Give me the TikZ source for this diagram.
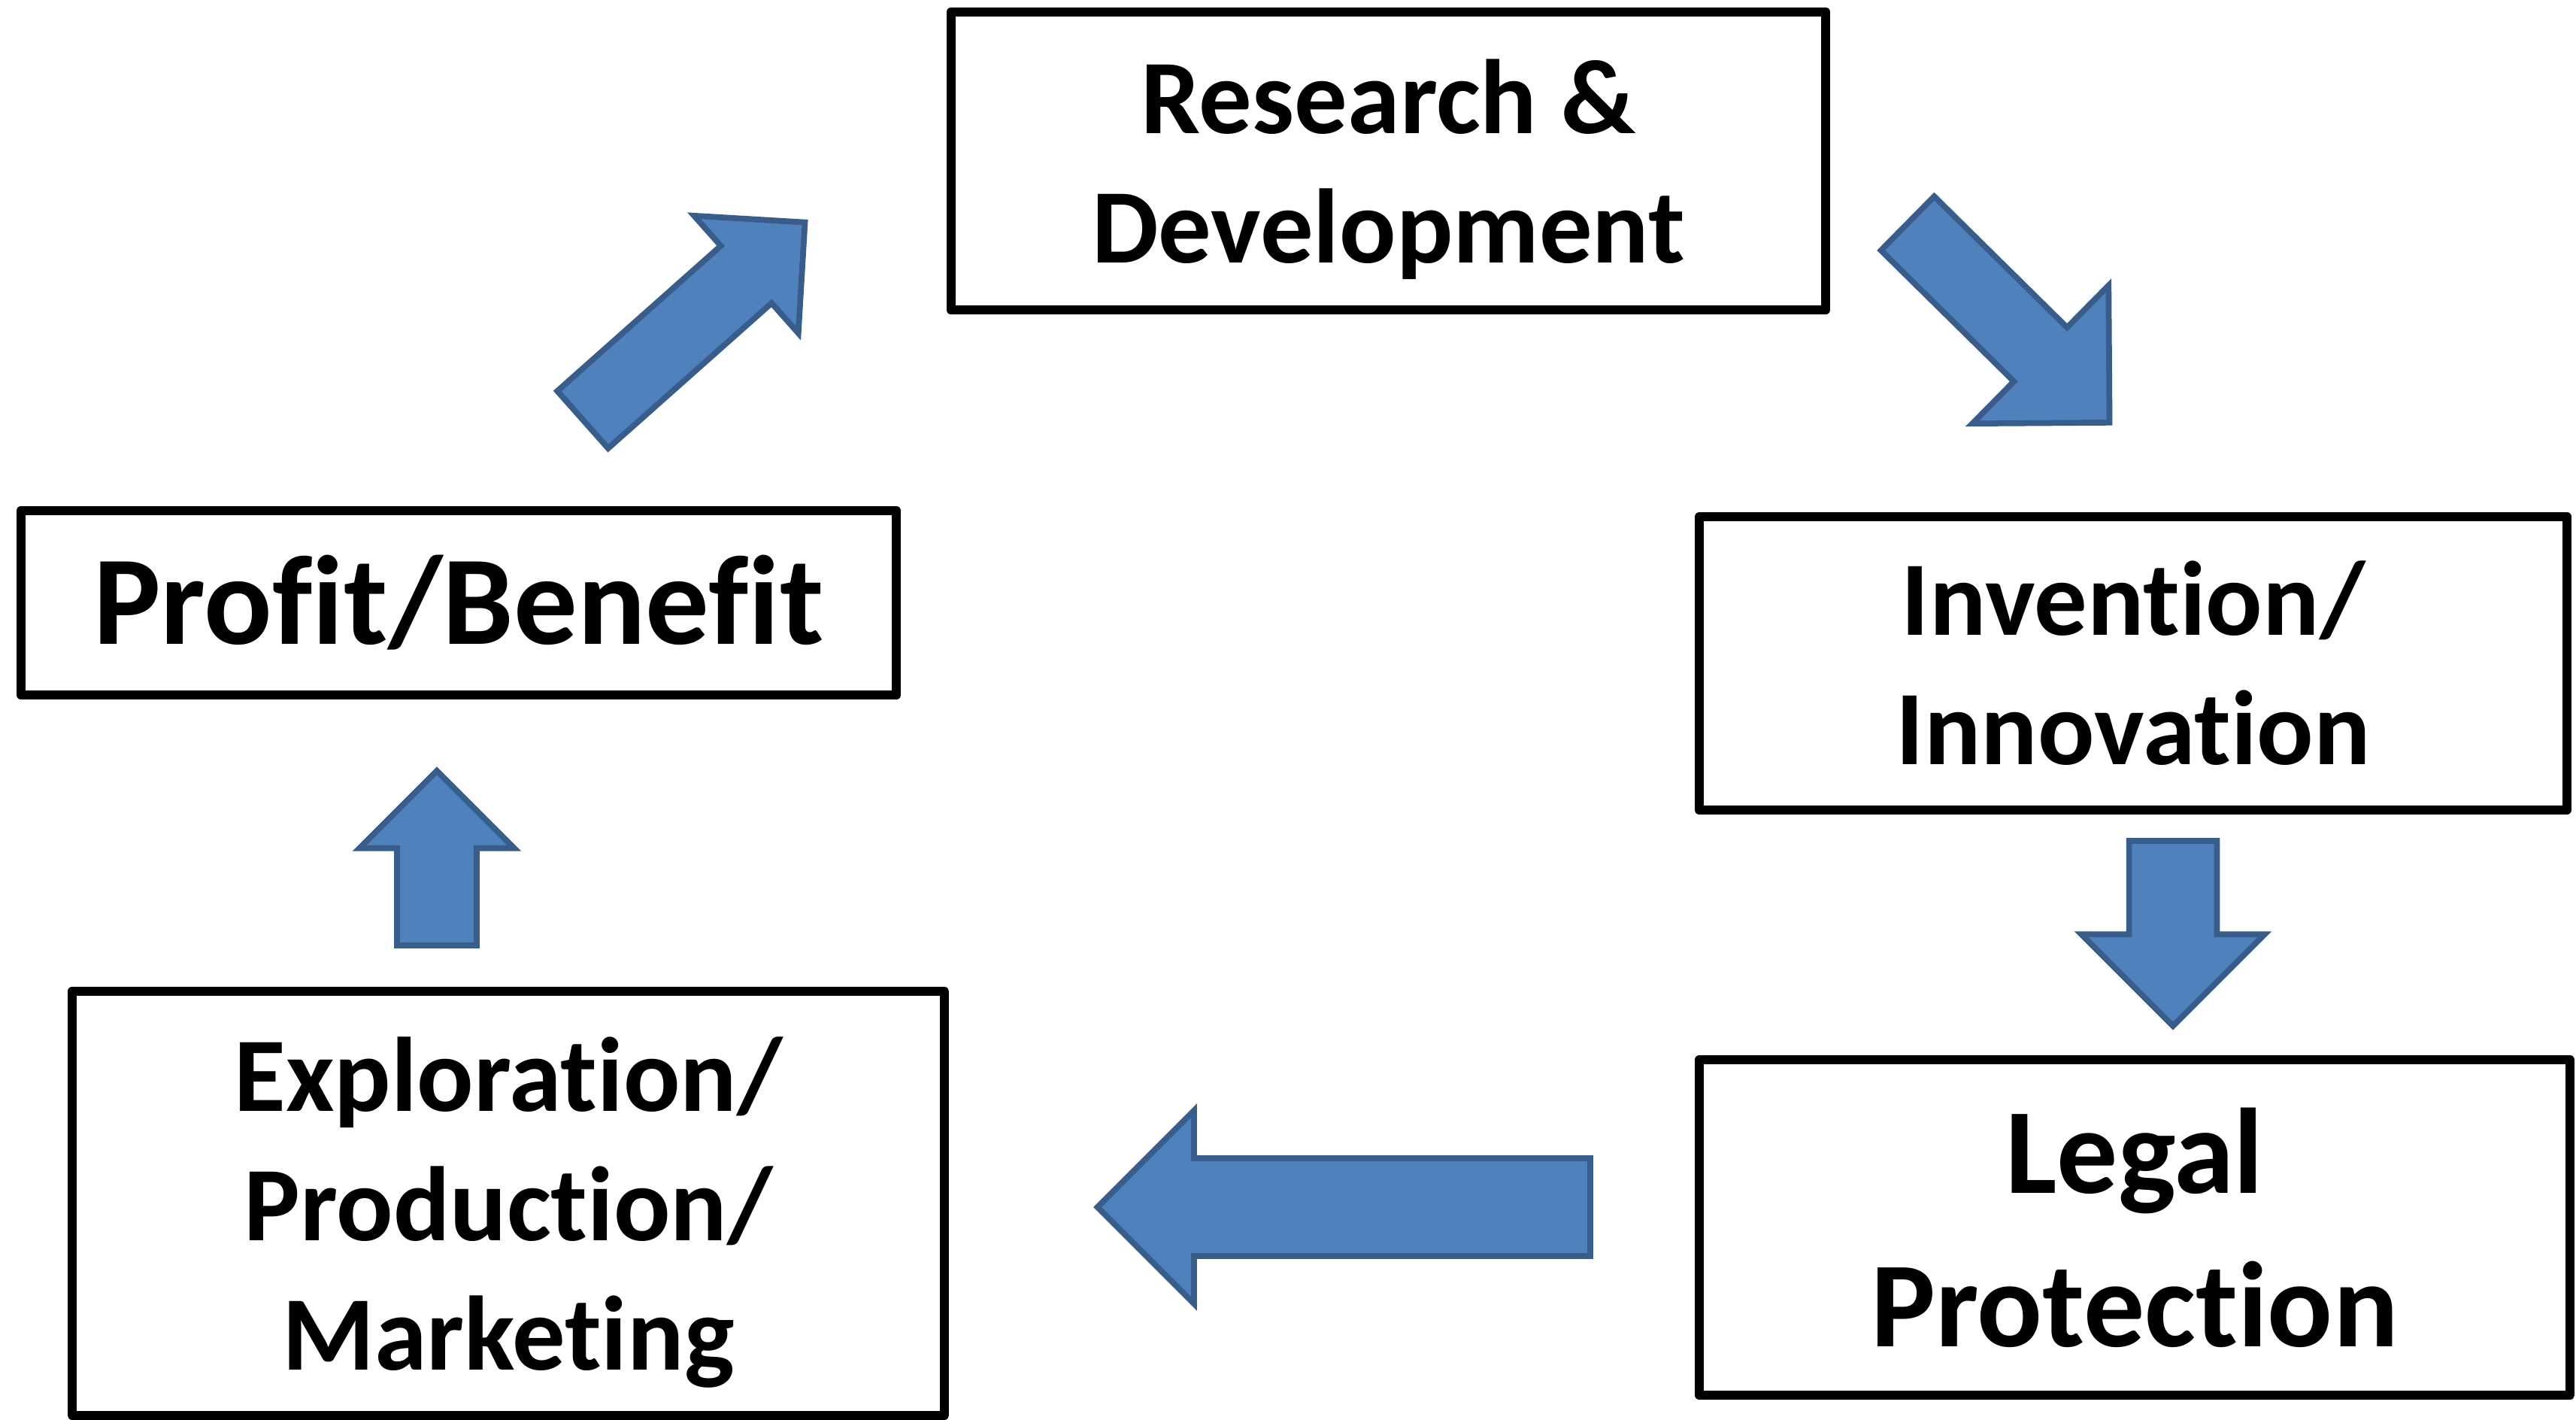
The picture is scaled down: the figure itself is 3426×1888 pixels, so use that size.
\documentclass[tikz,border=0pt]{standalone}
\usepackage{fontspec}
\setmainfont[Ligatures={NoCommon}]{Carlito}
\usetikzlibrary{shapes.arrows}

\definecolor{flowfill}{HTML}{4F81BD}
\definecolor{flowline}{HTML}{385D8A}

\tikzset{
  stage/.style={draw=black, fill=white, line width=3.4pt, line join=round,
    align=center, inner sep=0pt, font=\bfseries\fontsize{40}{49}\selectfont},
  flow/.style n args={4}{single arrow, draw=flowline, fill=flowfill,
    line width=2.2pt, single arrow tip angle=90, inner sep=0pt, outer sep=0pt,
    anchor=tail, minimum height=#1, inner ysep=#2/2, minimum width=#3,
    single arrow head extend=#4}
}

\begin{document}
\begin{tikzpicture}[x=0.01cm, y=-0.01cm]
\useasboundingbox (0,0) rectangle (3426,1888);

\node[stage, minimum width=11.63cm, minimum height=3.96cm, text depth=0pt] (rd)
  at (1846.5,214) {Research \&\\Development};
\node[stage, minimum width=11.53cm, minimum height=3.90cm] (inv) at (2837,882)
  {Invention/\\Innovation};
\node[stage, minimum width=11.58cm, minimum height=4.45cm,
  font=\bfseries\fontsize{46}{58}\selectfont] (lp) at (2839,1632)
  {Legal\\Protection};
\node[stage, minimum width=11.60cm, minimum height=5.63cm, text depth=0pt] (epm)
  at (676,1600) {Exploration/\\Production/\\Marketing};
\node[stage, minimum width=11.64cm, minimum height=2.45cm,
  font=\bfseries\fontsize{48}{58}\selectfont] (pb) at (610,801.5)
  {Profit/Benefit};

\node[flow={3.95cm}{0.94cm}{2.01cm}{0.535cm}, rotate=41.6] (pb-rd) at (775,558) {};
\node[flow={3.77cm}{0.93cm}{2.50cm}{0.785cm}, rotate=-44.6] (rd-inv) at (2537,297) {};
\node[flow={2.46cm}{1.09cm}{2.36cm}{0.635cm}, rotate=-90] (inv-lp) at (2890,1118) {};
\node[flow={6.55cm}{1.22cm}{2.49cm}{0.635cm}, rotate=180] (lp-epm) at (2115,1605) {};
\node[flow={2.32cm}{0.98cm}{1.98cm}{0.50cm}, rotate=90] (epm-pb) at (581,1257) {};
\end{tikzpicture}
\end{document}
